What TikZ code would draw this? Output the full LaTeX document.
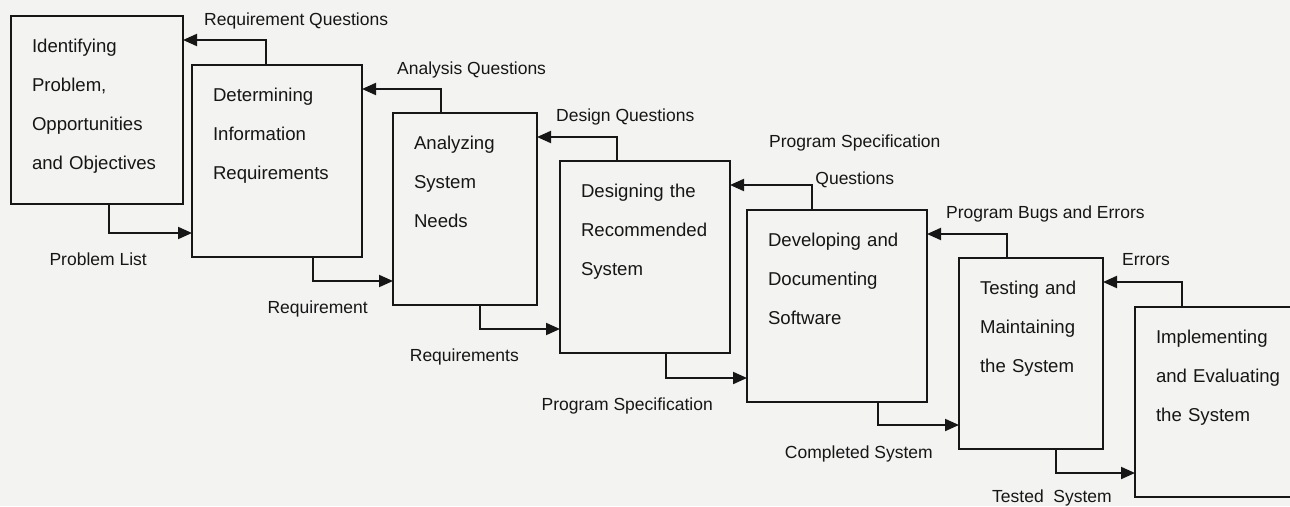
\documentclass[tikz,border=0pt]{standalone}
\usepackage{fontspec}
\setmainfont{Liberation Sans}
\usepackage{xcolor}
\usepackage{tikz}
\usetikzlibrary{arrows.meta, positioning}
\definecolor{paper}{RGB}{243,243,241}
\definecolor{ink}{RGB}{22,22,22}
\tikzset{
  stage/.style={
    rectangle, draw=ink, line width=2pt, align=left, text=ink,
    font=\fontsize{18.6pt}{39pt}\selectfont, outer sep=0pt,
    inner xsep=21pt, inner ysep=0pt, text width=#1,
    text height=36pt, text depth=156pt
  },
  lbl/.style={
    inner sep=0pt, text=ink, font=\fontsize{17.5pt}{37pt}\selectfont
  },
  arrow/.style={-{Triangle[length=14pt,width=12pt]}, line width=2pt, draw=ink}
}
\begin{document}
\begin{tikzpicture}
\fill[paper] (0,0) rectangle (1290pt,-506pt);
\useasboundingbox (0,0) rectangle (1290pt,-506pt);

\node[stage=130pt, anchor=north west, text depth=152pt] (ident) at (11pt,-16pt)
  {Identifying\\Problem,\\Opportunities\\and Objectives};
\node[stage=128pt, below right=49pt and 9pt of ident.north east] (det)
  {Determining\\Information\\Requirements};
\node[stage=102pt, below right=48pt and 31pt of det.north east] (anal)
  {Analyzing\\System\\Needs};
\node[stage=128pt, below right=48pt and 23pt of anal.north east] (design)
  {Designing the\\Recommended\\System};
\node[stage=138pt, below right=49pt and 17pt of design.north east] (devel)
  {Developing and\\Documenting\\Software};
\node[stage=102pt, below right=48pt and 32pt of devel.north east, text depth=155pt] (test)
  {Testing and\\Maintaining\\the System};
\node[stage=140pt, below right=49pt and 32pt of test.north east, text depth=154pt] (impl)
  {Implementing\\and Evaluating\\the System};

% questions going back, results going forward
\foreach \prev/\next/\bx/\fx in {ident/det/74pt/98pt, det/anal/48pt/121pt,
    anal/design/57pt/87pt, design/devel/65pt/106pt,
    devel/test/48pt/131pt, test/impl/47pt/97pt} {
  \draw[arrow] ([xshift=\bx]\next.north west) |- ([yshift=-24pt]\prev.north east);
  \draw[arrow] ([xshift=\fx]\prev.south west) |- ([yshift=24pt]\next.south west);
}

\node[lbl, right=21pt of ident.north east, yshift=-5pt] (reqq) {Requirement Questions};
\node[lbl, right=35pt of det.north east, yshift=-5pt] (anaq) {Analysis Questions};
\node[lbl, right=19pt of anal.north east, yshift=-4pt] (desq) {Design Questions};
\node[lbl, right=39pt of design.north east, align=center] (specq)
  {Program Specification\\Questions};
\node[lbl, right=19pt of devel.north east, yshift=-4pt] (bugs) {Program Bugs and Errors};
\node[lbl, right=19pt of test.north east, yshift=-2pt] (errs) {Errors};

\node[lbl, left=45pt of det.south west, yshift=-2pt] (plist) {Problem List};
\node[lbl, left=25pt of anal.south west, yshift=-4pt] (req) {Requirement};
\node[lbl, left=41pt of design.south west, yshift=-4pt] (reqs) {Requirements};
\node[lbl, left=34pt of devel.south west, yshift=-4pt] (spec) {Program Specification};
\node[lbl, left=26pt of test.south west, yshift=-5pt] (done) {Completed System};
\node[lbl, left=23pt of impl.south west, yshift=-1pt] (tested) {Tested~ System};

\end{tikzpicture}
\end{document}
